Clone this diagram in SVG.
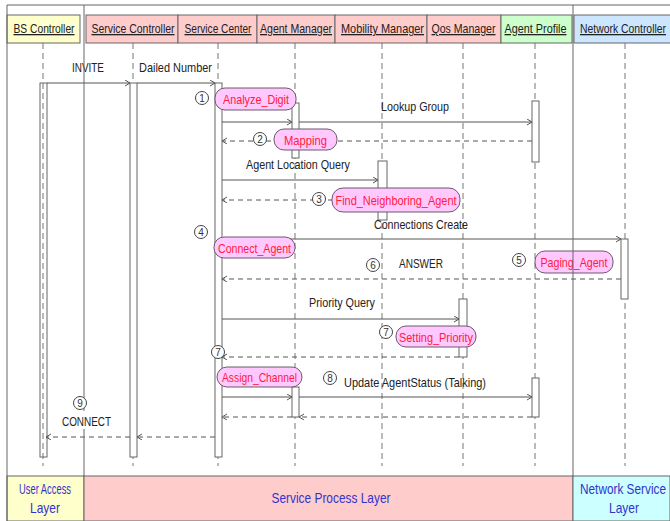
<svg xmlns="http://www.w3.org/2000/svg" width="670" height="521" viewBox="0 0 670 521">
<defs>
<marker id="arr" markerWidth="8" markerHeight="8" refX="5" refY="3" orient="auto" markerUnits="userSpaceOnUse">
<path d="M0,0 L5,3 L0,6" fill="none" stroke="#555" stroke-width="1"/>
</marker>
<style>
text { font-family: "Liberation Sans Narrow", "Liberation Sans", Arial, sans-serif; }
.hb { stroke:#666; stroke-width:1; }
.ht { font-size:13px; fill:#222; text-decoration:underline; text-anchor:middle; }
.ll { stroke:#777; stroke-width:1; stroke-dasharray:6 4; fill:none; }
.act { fill:#fff; stroke:#666; stroke-width:1; }
.msg { stroke:#555; stroke-width:1; fill:none; marker-end:url(#arr); }
.ret { stroke:#555; stroke-width:1; fill:none; stroke-dasharray:5 4; marker-end:url(#arr); }
.ml { font-size:13px; fill:#222; text-anchor:middle; }
.op { fill:#ffc8ff; stroke:#6b5b6b; stroke-width:1; }
.ot { font-size:13.5px; fill:#ff1a40; text-anchor:middle; }
.cc { fill:#fff; stroke:#444; stroke-width:1; }
.ct { font-size:10px; fill:#333; text-anchor:middle; }
.lt { font-size:15px; fill:#3333cc; text-anchor:middle; }
.frame { stroke:#666; stroke-width:1; fill:none; }
</style>
</defs>
<rect x="0" y="0" width="670" height="521" fill="#fff"/>

<!-- layer bands -->
<g id="layers">
<rect x="7" y="476" width="77" height="45" fill="#ffffcc" stroke="#666"/>
<rect x="84" y="476" width="489" height="45" fill="#ffcccc" stroke="#666"/>
<rect x="573" y="476" width="97" height="45" fill="#ccffff" stroke="#666"/>
<text class="lt" x="45" y="494" textLength="52" lengthAdjust="spacingAndGlyphs">User Access</text>
<text class="lt" x="45" y="513" textLength="30" lengthAdjust="spacingAndGlyphs">Layer</text>
<text class="lt" x="331" y="503" textLength="119" lengthAdjust="spacingAndGlyphs">Service Process Layer</text>
<text class="lt" x="623" y="494" textLength="86" lengthAdjust="spacingAndGlyphs">Network Service</text>
<text class="lt" x="624" y="513" textLength="30" lengthAdjust="spacingAndGlyphs">Layer</text>
</g>

<!-- participants -->
<g id="bs-controller">
<rect class="hb" x="7" y="15" width="73" height="28" fill="#ffffcc"/>
<text class="ht" x="44" y="33" textLength="61" lengthAdjust="spacingAndGlyphs">BS Controller</text>
<line class="ll" x1="43" y1="43" x2="43" y2="466"/>
<rect x="40" y="83" width="7" height="374" fill="none" stroke="#666"/>
</g>
<g id="service-controller">
<rect class="hb" x="86" y="15" width="92" height="28" fill="#ffcccc"/>
<text class="ht" x="133" y="33" textLength="83" lengthAdjust="spacingAndGlyphs">Service Controller</text>
<line class="ll" x1="133" y1="43" x2="133" y2="466"/>
<rect class="act" x="130" y="83" width="7" height="374"/>
</g>
<g id="service-center">
<rect class="hb" x="178" y="15" width="79" height="28" fill="#ffcccc"/>
<text class="ht" x="218" y="33" textLength="67" lengthAdjust="spacingAndGlyphs">Service Center</text>
<line class="ll" x1="218" y1="43" x2="218" y2="466"/>
<rect class="act" x="215" y="83" width="7" height="374"/>
</g>
<g id="agent-manager">
<rect class="hb" x="257" y="15" width="78" height="28" fill="#ffcccc"/>
<text class="ht" x="296" y="33" textLength="72" lengthAdjust="spacingAndGlyphs">Agent Manager</text>
<line class="ll" x1="295" y1="43" x2="295" y2="466"/>
<rect class="act" x="292" y="103" width="7" height="55"/>
<rect class="act" x="292" y="387" width="7" height="30"/>
</g>
<g id="mobility-manager">
<rect class="hb" x="335" y="15" width="92" height="28" fill="#ffcccc"/>
<text class="ht" x="382.5" y="33" textLength="83" lengthAdjust="spacingAndGlyphs">Mobility Manager</text>
<line class="ll" x1="382" y1="43" x2="382" y2="466"/>
<rect class="act" x="378" y="161" width="9" height="59"/>
</g>
<g id="qos-manager">
<rect class="hb" x="427" y="15" width="74" height="28" fill="#ffcccc"/>
<text class="ht" x="463.5" y="33" textLength="64" lengthAdjust="spacingAndGlyphs">Qos Manager</text>
<line class="ll" x1="463" y1="43" x2="463" y2="466"/>
<rect class="act" x="459" y="299" width="8" height="58"/>
</g>
<g id="agent-profile">
<rect class="hb" x="501" y="15" width="71" height="28" fill="#ccffcc"/>
<text class="ht" x="535.5" y="33" textLength="62" lengthAdjust="spacingAndGlyphs">Agent Profile</text>
<line class="ll" x1="535" y1="43" x2="535" y2="466"/>
<rect class="act" x="532" y="101" width="7" height="61"/>
<rect class="act" x="532" y="378" width="7" height="39"/>
</g>
<g id="network-controller">
<rect class="hb" x="574" y="15" width="100" height="28" fill="#cce6ff"/>
<text class="ht" x="623" y="33" textLength="86" lengthAdjust="spacingAndGlyphs">Network Controller</text>
<line class="ll" x1="625" y1="43" x2="625" y2="466"/>
<rect class="act" x="621" y="239" width="7" height="60"/>
</g>

<!-- connectors -->
<g id="connectors">
<line class="msg" x1="47" y1="83" x2="130" y2="83"/>
<text class="ml" x="88" y="72" textLength="32" lengthAdjust="spacingAndGlyphs">INVITE</text>
<line class="msg" x1="137" y1="83" x2="215" y2="83"/>
<text class="ml" x="175.5" y="72" textLength="73" lengthAdjust="spacingAndGlyphs">Dailed Number</text>

<line class="msg" x1="222" y1="122" x2="292" y2="122"/>
<line class="msg" x1="299" y1="122" x2="532" y2="122"/>
<text class="ml" x="415" y="111" textLength="68" lengthAdjust="spacingAndGlyphs">Lookup Group</text>
<line class="ret" x1="532" y1="141" x2="222" y2="141"/>

<line class="msg" x1="222" y1="180" x2="378" y2="180"/>
<text class="ml" x="298" y="169" textLength="104" lengthAdjust="spacingAndGlyphs">Agent Location Query</text>
<line class="ret" x1="378" y1="200" x2="222" y2="200"/>

<line class="msg" x1="222" y1="239" x2="621" y2="239"/>
<text class="ml" x="421" y="229" textLength="94" lengthAdjust="spacingAndGlyphs">Connections Create</text>
<line class="ret" x1="621" y1="279" x2="222" y2="279"/>
<text class="ml" x="421" y="268" textLength="44" lengthAdjust="spacingAndGlyphs">ANSWER</text>

<line class="msg" x1="222" y1="319" x2="459" y2="319"/>
<text class="ml" x="342" y="307" textLength="66" lengthAdjust="spacingAndGlyphs">Priority Query</text>
<line class="ret" x1="459" y1="357" x2="222" y2="357"/>

<line class="msg" x1="222" y1="397" x2="292" y2="397"/>
<line class="msg" x1="299" y1="397" x2="532" y2="397"/>
<text class="ml" x="415" y="387" textLength="142" lengthAdjust="spacingAndGlyphs">Update AgentStatus (Talking)</text>
<line class="ret" x1="532" y1="417" x2="299" y2="417"/>
<line class="ret" x1="292" y1="417" x2="222" y2="417"/>

<line class="ret" x1="215" y1="437" x2="137" y2="437"/>
<line class="ret" x1="130" y1="437" x2="46" y2="437"/>
</g>

<!-- frame and layer separators -->
<g id="frame">
<line class="frame" x1="7" y1="5" x2="670" y2="5"/>
<line class="frame" x1="7" y1="5" x2="7" y2="521"/>
<line class="frame" x1="84" y1="5" x2="84" y2="476"/>
<line class="frame" x1="573" y1="5" x2="573" y2="476"/>
</g>

<!-- operations -->
<g id="analyze-digit">
<rect class="op" x="215" y="88" width="81" height="22" rx="10"/>
<text class="ot" x="256" y="103.5" textLength="66" lengthAdjust="spacingAndGlyphs">Analyze_Digit</text>
</g>
<g id="mapping">
<rect class="op" x="274" y="129" width="63" height="21" rx="10"/>
<text class="ot" x="305.5" y="144.5" textLength="43" lengthAdjust="spacingAndGlyphs">Mapping</text>
</g>
<g id="find-neighboring-agent">
<rect class="op" x="332" y="188" width="128" height="24" rx="11"/>
<text class="ot" x="396" y="205" textLength="121" lengthAdjust="spacingAndGlyphs">Find_Neighboring_Agent</text>
</g>
<g id="connect-agent">
<rect class="op" x="214" y="237" width="81" height="21" rx="10"/>
<text class="ot" x="254.5" y="252.5" textLength="73" lengthAdjust="spacingAndGlyphs">Connect_Agent</text>
</g>
<g id="paging-agent">
<rect class="op" x="535" y="251" width="78" height="22" rx="10"/>
<text class="ot" x="574" y="266.5" textLength="67" lengthAdjust="spacingAndGlyphs">Paging_Agent</text>
<line class="frame" x1="573" y1="251" x2="573" y2="273"/>
</g>
<g id="setting-priority">
<rect class="op" x="396" y="326" width="80" height="21" rx="10"/>
<text class="ot" x="436" y="341.5" textLength="74" lengthAdjust="spacingAndGlyphs">Setting_Priority</text>
</g>
<g id="assign-channel">
<rect class="op" x="217" y="367" width="85" height="20" rx="10"/>
<text class="ot" x="259.5" y="382" textLength="75" lengthAdjust="spacingAndGlyphs">Assign_Channel</text>
</g>

<!-- step numbers -->
<g id="steps">
<circle class="cc" cx="202" cy="98" r="6.5"/><text class="ct" x="202" y="101.5">1</text>
<circle class="cc" cx="260" cy="139" r="6.5"/><text class="ct" x="260" y="142.5">2</text>
<circle class="cc" cx="319" cy="199" r="6.5"/><text class="ct" x="319" y="202.5">3</text>
<circle class="cc" cx="201" cy="232" r="6.5"/><text class="ct" x="201" y="235.5">4</text>
<circle class="cc" cx="519" cy="260" r="6.5"/><text class="ct" x="519" y="263.5">5</text>
<circle class="cc" cx="373" cy="265" r="6.5"/><text class="ct" x="373" y="268.5">6</text>
<circle class="cc" cx="386" cy="332" r="6.5"/><text class="ct" x="386" y="335.5">7</text>
<circle class="cc" cx="218" cy="352" r="6.5"/><text class="ct" x="218" y="355.5">7</text>
<circle class="cc" cx="330" cy="378" r="6.5"/><text class="ct" x="330" y="381.5">8</text>
<circle class="cc" cx="80" cy="403" r="6.5"/><text class="ct" x="80" y="406.5">9</text>
</g>
<g id="connect-label">
<rect x="61" y="411" width="51" height="18" fill="#fff"/>
<text class="ml" x="86.5" y="426" textLength="49" lengthAdjust="spacingAndGlyphs">CONNECT</text>
</g>
</svg>
